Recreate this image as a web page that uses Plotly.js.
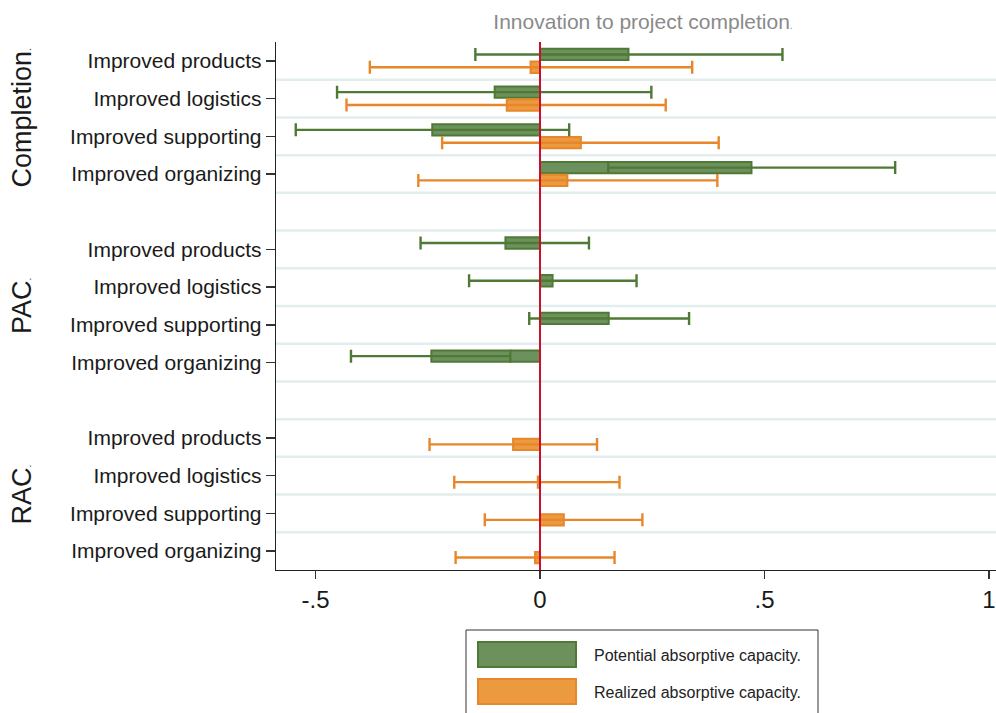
<!DOCTYPE html>
<html>
<head>
<meta charset="utf-8">
<script src="https://cdn.plot.ly/plotly-3.0.1.min.js"></script>
<style>
html,body{margin:0;padding:0;background:#fff;}
#chart{width:996px;height:713px;}
</style>
</head>
<body>
<div id="chart"></div>
<script>
// ---- data ----
const groups = ['Completion', 'PAC', 'RAC'];
const items = ['Improved products', 'Improved logistics', 'Improved supporting', 'Improved organizing'];
const xTickVals = [-0.5, 0, 0.5, 1];
const xTickText = ['-.5', '0', '.5', '1'];
const seriesNames = ['Potential absorptive capacity.', 'Realized absorptive capacity.'];

// rows: Completion x4, PAC x4, RAC x4
const potEst = [0.197, -0.101, -0.240, 0.471, -0.077, 0.028, 0.153, -0.242, null, null, null, null];
const potLo  = [-0.144, -0.452, -0.544, 0.152, -0.266, -0.158, -0.024, -0.421, null, null, null, null];
const potHi  = [0.540, 0.248, 0.065, 0.791, 0.109, 0.215, 0.332, -0.066, null, null, null, null];

const reaEst = [-0.021, -0.074, 0.091, 0.061, null, null, null, null, -0.060, -0.005, 0.053, -0.011];
const reaLo  = [-0.379, -0.431, -0.218, -0.271, null, null, null, null, -0.246, -0.191, -0.123, -0.188];
const reaHi  = [0.339, 0.280, 0.398, 0.395, null, null, null, null, 0.127, 0.177, 0.228, 0.166];

// ---- layout helpers ----
const nRows = groups.length * items.length;
const slots = [];
const tickText = [];
for (let i = 0; i < nRows; i++) {
  slots.push(i + Math.floor(i / items.length));
  tickText.push(items[i % items.length]);
}
const lastSlot = slots[slots.length - 1];

const green = '#6d915c', greenDark = '#4f7a36';
const orange = '#eb9a40', orangeDark = '#e8862a';
const off = 0.17;

function barTrace(est, fill, line, sign) {
  return {
    type: 'bar', orientation: 'h',
    x: est, y: slots,
    width: 0.3, offset: sign < 0 ? -0.32 : 0.02,
    marker: {color: fill, line: {color: line, width: 2}},
    hoverinfo: 'skip', showlegend: false
  };
}
function whiskerTrace(est, lo, hi, color, sign) {
  return {
    type: 'scatter', mode: 'markers',
    x: est, y: slots.map(s => s + sign * off),
    marker: {size: 1, opacity: 0},
    error_x: {
      type: 'data', symmetric: false,
      array: est.map((e, i) => e === null ? null : hi[i] - e),
      arrayminus: est.map((e, i) => e === null ? null : e - lo[i]),
      color: color, thickness: 2.4, width: 6.5
    },
    hoverinfo: 'skip', showlegend: false
  };
}

const data = [
  barTrace(potEst, green, greenDark, -1),
  barTrace(reaEst, orange, orangeDark, 1),
  whiskerTrace(potEst, potLo, potHi, greenDark, -1),
  whiskerTrace(reaEst, reaLo, reaHi, orangeDark, 1)
];

const shapes = [];
for (let s = 0; s < lastSlot; s++) {
  shapes.push({type: 'line', xref: 'paper', x0: 0, x1: 1, yref: 'y', y0: s + 0.5, y1: s + 0.5,
    line: {color: '#e2eded', width: 2.5}, layer: 'below'});
}
shapes.push({type: 'line', xref: 'x', x0: 0, x1: 0, yref: 'paper', y0: 0, y1: 1,
  line: {color: '#c8102e', width: 2}, layer: 'above'});

// legend (drawn manually)
const px = p => (p - 276) / 720;
const py = p => (570 - p) / 528;
shapes.push({type: 'rect', xref: 'paper', yref: 'paper', x0: px(466), x1: px(818), y0: py(716), y1: py(630),
  line: {color: '#333', width: 1}, fillcolor: 'rgba(0,0,0,0)'});
shapes.push({type: 'rect', xref: 'paper', yref: 'paper', x0: px(478), x1: px(576), y0: py(667), y1: py(642),
  line: {color: greenDark, width: 2}, fillcolor: green});
shapes.push({type: 'rect', xref: 'paper', yref: 'paper', x0: px(478), x1: px(576), y0: py(704), y1: py(679),
  line: {color: orangeDark, width: 2}, fillcolor: orange});

const annotations = [];
groups.forEach((g, gi) => {
  annotations.push({
    text: g + '<span style="font-size:10px">.</span>', xref: 'paper', x: px(22), yref: 'y',
    y: gi * (items.length + 1) + (items.length - 1) / 2,
    textangle: -90, showarrow: false, xanchor: 'center', yanchor: 'middle',
    font: {size: 27, color: '#1a1a1a', family: 'Liberation Sans, Arial, sans-serif'}
  });
});
seriesNames.forEach((n, i) => {
  annotations.push({
    text: n, xref: 'paper', yref: 'paper', x: px(592), y: py(i === 0 ? 655 : 692),
    xanchor: 'left', yanchor: 'middle', showarrow: false,
    font: {size: 16, color: '#222', family: 'Liberation Sans, Arial, sans-serif'}
  });
});

const layout = {
  width: 996, height: 713,
  margin: {l: 276, r: 0, t: 42, b: 143, pad: 0},
  paper_bgcolor: '#fff', plot_bgcolor: '#fff',
  font: {family: 'Liberation Sans, Arial, sans-serif', color: '#1a1a1a'},
  title: {
    text: 'Innovation to project completion<span style="font-size:10px">.</span>',
    x: px(643), xref: 'paper', xanchor: 'center',
    y: 1 - 22 / 713, yref: 'container', yanchor: 'middle',
    font: {size: 21, color: '#8a8a8a', family: 'Liberation Sans Narrow, Liberation Sans, Arial, sans-serif'}
  },
  barmode: 'overlay',
  showlegend: false,
  xaxis: {
    range: [-0.588, 1.0156], tickvals: xTickVals, ticktext: xTickText,
    ticks: 'outside', ticklen: 8, tickwidth: 1.3, tickcolor: '#333',
    showline: true, linecolor: '#222', linewidth: 1.3,
    showgrid: false, zeroline: false,
    tickfont: {size: 24, color: '#1a1a1a'}
  },
  yaxis: {
    range: [lastSlot + 0.5, -0.5], tickvals: slots, ticktext: tickText,
    ticks: 'outside', ticklen: 9, tickwidth: 1.3, tickcolor: '#333',
    showline: true, linecolor: '#222', linewidth: 1.3,
    showgrid: false, zeroline: false,
    tickfont: {size: 21, color: '#1a1a1a'}
  },
  shapes: shapes,
  annotations: annotations
};

Plotly.newPlot('chart', data, layout, {staticPlot: true, displayModeBar: false});
</script>
</body>
</html>
